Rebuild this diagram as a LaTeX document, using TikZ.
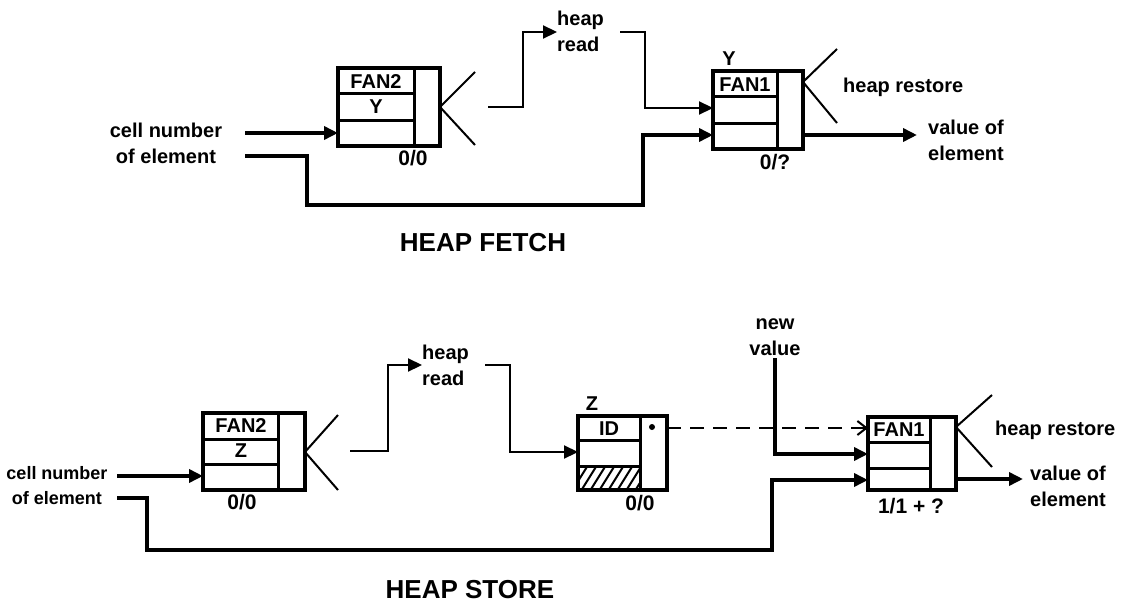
\documentclass[tikz,border=0pt]{standalone}
\usepackage{fontspec}
\setmainfont{Liberation Sans}
\usetikzlibrary{arrows.meta}
\begin{document}
\begin{tikzpicture}[x=1pt,y=-1pt,
  box/.style={draw, line width=3.5pt, inner sep=0pt, outer sep=0pt},
  inner/.style={line width=3pt},
  wire/.style={line width=3.5pt},
  thinwire/.style={line width=2.2pt},
  fanline/.style={line width=2pt},
  arr/.style={-{Triangle[length=14pt,width=13pt]}},
  lbl/.style={font=\fontsize{20}{26}\selectfont\bfseries, inner sep=0pt},
  smalllbl/.style={font=\fontsize{18}{25}\selectfont\bfseries, inner sep=0pt},
  cnt/.style={font=\fontsize{21}{26}\selectfont\bfseries, inner sep=0pt},
  title/.style={font=\fontsize{26}{30}\selectfont\bfseries, inner sep=0pt}]
\useasboundingbox (0,0) rectangle (1125,610);

% ================= HEAP FETCH =================
\node[box, minimum width=102pt, minimum height=78pt] (fanA) at (389,107) {};
\draw[inner] (414,68) -- (414,146);
\draw[inner] (338,94) -- (414,94);
\draw[inner] (338,120) -- (414,120);
\node[lbl] (fanAt) at (376,82) {FAN2};
\node[lbl] (fanAy) at (376,107) {Y};
\node[cnt] (fanAc) at (413,158) {0/0};
\coordinate (fanAap) at (440,107);
\coordinate (fanAu) at (475,72);
\coordinate (fanAd) at (475,145);
\draw[fanline] (fanAu) -- (fanAap) -- (fanAd);

\node[lbl, align=center] (cellA) at (166,143) {cell number\\of element};
\coordinate (cA1) at (245,133);
\coordinate (cA2) at (245,156);
\draw[wire, arr] (cA1) -- (cA1 -| fanA.west);

\node[lbl, align=left, anchor=west] (hrA) at (557,31) {heap\\read};
\coordinate (hA0) at (488,107);
\coordinate (hA1) at (523,107);
\coordinate (hA2) at (523,32);
\draw[thinwire, arr] (hA0) -- (hA1) -- (hA2) -- (hA2 -| hrA.west);

\node[box, minimum width=90pt, minimum height=78pt] (fanB) at (758,110) {};
\draw[inner] (777,71) -- (777,149);
\draw[inner] (713,97) -- (777,97);
\draw[inner] (713,123) -- (777,123);
\node[lbl] (fanBt) at (745,85) {FAN1};
\node[lbl] (fanBy) at (729,59) {Y};
\node[cnt] (fanBc) at (775,162) {0/?};
\coordinate (fanBap) at (803,82);
\coordinate (fanBu) at (837,49);
\coordinate (fanBd) at (837,123);
\draw[fanline] (fanBu) -- (fanBap) -- (fanBd);
\node[lbl, anchor=west] (hsA) at (843,87) {heap restore};

\coordinate (hA3) at (620,32);
\coordinate (hA4) at (645,32);
\coordinate (hA5) at (645,108);
\draw[thinwire, arr] (hA3) -- (hA4) -- (hA5) -- (hA5 -| fanB.west);

\coordinate (lA1) at (307,156);
\coordinate (lA2) at (307,205);
\coordinate (lA3) at (643,205);
\coordinate (lA4) at (643,135);
\draw[wire, arr] (cA2) -- (lA1) -- (lA2) -- (lA3) -- (lA4) -- (lA4 -| fanB.west);

\node[lbl, align=left, anchor=west] (voA) at (928,140) {value of\\element};
\coordinate (oA) at (917,135);
\draw[wire, arr] (oA -| fanB.east) -- (oA);

\node[title] (tA) at (483,243) {HEAP FETCH};

% ================= HEAP STORE =================
\node[box, minimum width=102pt, minimum height=77pt] (fanC) at (254,451.5) {};
\draw[inner] (278,413) -- (278,490);
\draw[inner] (203,439) -- (278,439);
\draw[inner] (203,464) -- (278,464);
\node[lbl] (fanCt) at (241,426) {FAN2};
\node[lbl] (fanCz) at (241,451) {Z};
\node[cnt] (fanCc) at (242,502) {0/0};
\coordinate (fanCap) at (305,452);
\coordinate (fanCu) at (338,415);
\coordinate (fanCd) at (338,490);
\draw[fanline] (fanCu) -- (fanCap) -- (fanCd);

\node[smalllbl, align=center] (cellB) at (57,486) {cell number\\of element};
\coordinate (cB1) at (117,476);
\coordinate (cB2) at (117,498);
\draw[wire, arr] (cB1) -- (cB1 -| fanC.west);

\node[lbl, align=left, anchor=west] (hrB) at (422,365) {heap\\read};
\coordinate (hB0) at (350,451);
\coordinate (hB1) at (388,451);
\coordinate (hB2) at (388,365);
\draw[thinwire, arr] (hB0) -- (hB1) -- (hB2) -- (hB2 -| hrB.west);

% ID box
\node[box, minimum width=89pt, minimum height=74pt] (idB) at (622.5,453) {};
\begin{scope}
  \clip (578,466) rectangle (640,490);
  \foreach \i in {0,9,...,90} {
    \draw[line width=2pt] (570+\i,494) -- (590+\i,462);
  }
\end{scope}
\draw[inner] (640,416) -- (640,490);
\draw[inner] (578,440) -- (640,440);
\draw[inner] (578,466) -- (640,466);
\node[lbl] (idBt) at (609,429) {ID};
\node[lbl] (idBz) at (592,404) {Z};
\node[cnt] (idBc) at (640,503) {0/0};
\fill (652,427) circle (3pt);

\coordinate (hB3) at (485,365);
\coordinate (hB4) at (510,365);
\coordinate (hB5) at (510,452);
\draw[thinwire, arr] (hB3) -- (hB4) -- (hB5) -- (hB5 -| idB.west);

% FAN1 box
\node[box, minimum width=88pt, minimum height=73pt] (fanD) at (912,453.5) {};
\draw[inner] (930,417) -- (930,490);
\draw[inner] (868,442) -- (930,442);
\draw[inner] (868,468) -- (930,468);
\node[lbl] (fanDt) at (899,430) {FAN1};
\node[cnt] (fanDc) at (911,506) {1/1 + ?};
\coordinate (fanDap) at (956,427);
\coordinate (fanDu) at (992,395);
\coordinate (fanDd) at (992,467);
\draw[fanline] (fanDu) -- (fanDap) -- (fanDd);
\node[lbl, anchor=west] (hsB) at (995,430) {heap restore};

\coordinate (dB) at (667,428);
\draw[line width=2pt, dash pattern=on 14pt off 9pt, -{Straight Barb[length=9pt,width=14pt]}] (dB) -- (dB -| fanD.west);

\node[lbl, align=center] (nvB) at (775,337) {new\\value};
\coordinate (nv1) at (775,358);
\coordinate (nv2) at (775,454);
\draw[wire, arr] (nv1) -- (nv2) -- (nv2 -| fanD.west);

\coordinate (lB1) at (147,498);
\coordinate (lB2) at (147,550);
\coordinate (lB3) at (772,550);
\coordinate (lB4) at (772,480);
\draw[wire, arr] (cB2) -- (lB1) -- (lB2) -- (lB3) -- (lB4) -- (lB4 -| fanD.west);

\node[lbl, align=left, anchor=west] (voB) at (1030,486) {value of\\element};
\coordinate (oB) at (1023,479);
\draw[wire, arr] (oB -| fanD.east) -- (oB);

\node[title] (tB) at (470,590) {HEAP STORE};
\end{tikzpicture}
\end{document}
